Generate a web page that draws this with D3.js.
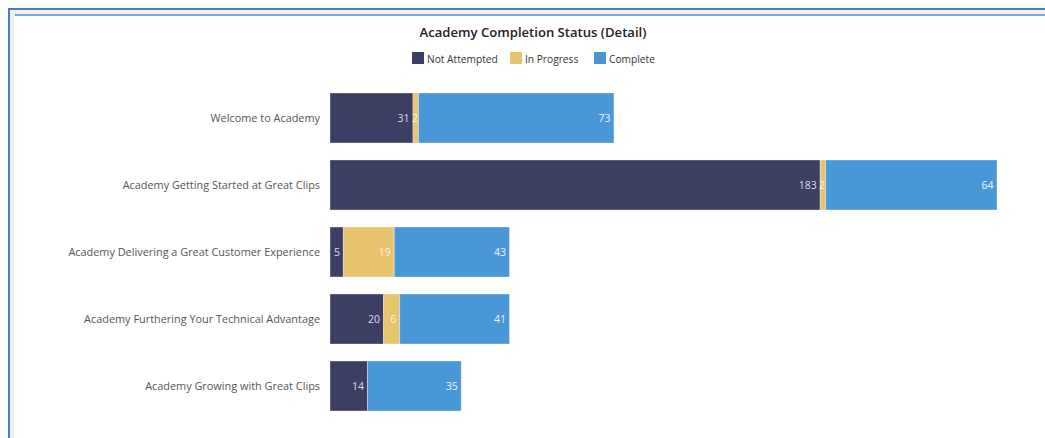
<!DOCTYPE html>
<html><head><meta charset="utf-8">
<script src="https://cdn.jsdelivr.net/npm/d3@7"></script>
<style>
html,body{margin:0;padding:0;background:#fff;}
svg{display:block;font-family:"Open Sans",sans-serif;}
</style></head>
<body>
<svg id="c" width="1045" height="438"></svg>
<script>
const categories = [
  "Welcome to Academy",
  "Academy Getting Started at Great Clips",
  "Academy Delivering a Great Customer Experience",
  "Academy Furthering Your Technical Advantage",
  "Academy Growing with Great Clips"
];
const seriesNames = ["Not Attempted", "In Progress", "Complete"];
const notAttempted = [31, 183, 5, 20, 14];
const inProgress = [2, 2, 19, 6, 0];
const complete = [73, 64, 43, 41, 35];
const colors = ["#3c3e63", "#e9c46f", "#4a97d8"];
const labelColors = ["#dcdce4", "#fbf3df", "#eef5fc"];

const svg = d3.select("#c");
// frame
svg.append("rect").attr("x", 10).attr("y", 10).attr("width", 1035).attr("height", 428).attr("fill", "#f0f0f0");
svg.append("rect").attr("x", 14).attr("y", 16).attr("width", 1031).attr("height", 422).attr("fill", "#fff");
svg.append("rect").attr("x", 8).attr("y", 8).attr("width", 1037).attr("height", 2).attr("fill", "#4b7cc2");
svg.append("rect").attr("x", 8).attr("y", 8).attr("width", 2).attr("height", 430).attr("fill", "#4b7cc2");
svg.append("rect").attr("x", 15).attr("y", 14).attr("width", 1030).attr("height", 2).attr("fill", "#72a9e0");

svg.append("text").attr("x", 533).attr("y", 37).attr("text-anchor", "middle")
  .attr("font-size", 13.1).attr("font-weight", 600).attr("fill", "#222")
  .text("Academy Completion Status (Detail)");

// legend
const legendX = [412, 510, 594];
const lg = svg.append("g");
seriesNames.forEach((n, i) => {
  lg.append("rect").attr("x", legendX[i]).attr("y", 52).attr("width", 12).attr("height", 12).attr("fill", colors[i]);
  lg.append("text").attr("x", legendX[i] + 15).attr("y", 62.5).attr("font-size", 10.2).attr("fill", "#333").text(n);
});

const data = categories.map((c, i) => ({cat: c, vals: [notAttempted[i], inProgress[i], complete[i]]}));
const stack = d3.stack().keys([0, 1, 2]).value((d, k) => d.vals[k]);
const layers = stack(data);
const maxTotal = d3.max(data, d => d3.sum(d.vals));

const x = d3.scaleLinear().domain([0, maxTotal]).range([330, 997]);
const y = d3.scaleBand().domain(categories).range([84.5, 419.5]).paddingInner(17 / 67).paddingOuter(8.5 / 67);

const yAxis = d3.axisLeft(y).tickSize(0).tickPadding(10);
const ag = svg.append("g").attr("transform", "translate(330,0)").call(yAxis);
ag.select(".domain").remove();
ag.selectAll("text").attr("font-size", 10.9).attr("fill", "#555").attr("font-family", "'Open Sans',sans-serif");

layers.forEach((layer, k) => {
  const g = svg.append("g");
  layer.forEach((seg, i) => {
    const v = seg[1] - seg[0];
    if (v <= 0) return;
    const x0 = x(seg[0]), x1 = x(seg[1]);
    const yy = y(data[i].cat);
    g.append("rect").attr("x", x0).attr("y", yy).attr("width", x1 - x0).attr("height", y.bandwidth())
      .attr("fill", colors[k]).attr("stroke", "#ffffff").attr("stroke-opacity", 0.35).attr("stroke-width", 1);
    const w = x1 - x0;
    const tx = w < 12 ? x1 - 0.5 : x1 - 3.5;
    g.append("text").attr("x", tx).attr("y", yy + y.bandwidth() / 2 + 4).attr("text-anchor", "end")
      .attr("font-size", 10.5).attr("fill", labelColors[k]).text(v);
  });
});
</script>
</body></html>
